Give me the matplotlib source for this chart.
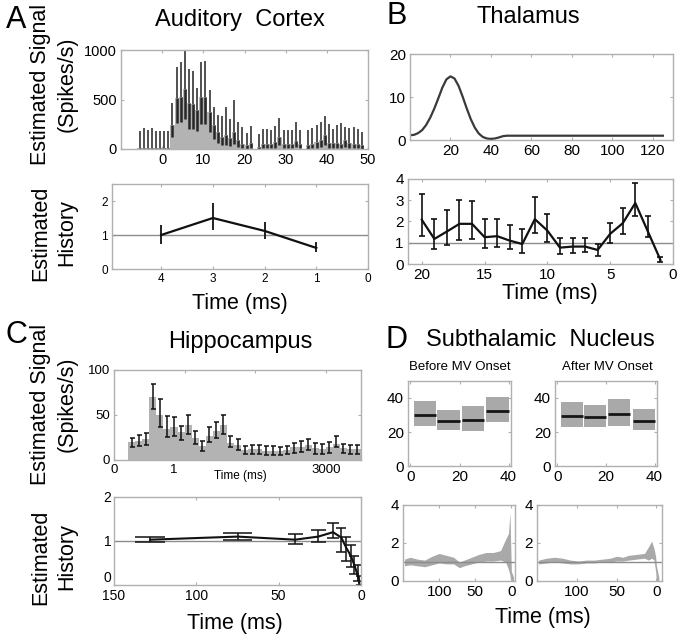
import matplotlib
matplotlib.use('Agg')
import matplotlib.pyplot as plt
import numpy as np

plt.rcParams['font.family'] = ['Liberation Sans', 'DejaVu Sans']

# ---------------- data ----------------
# A: Auditory cortex signal (1-ms bins)
a_t = [-5.5, -4.5, -3.5, -2.5, -1.5, -0.5, 0.5, 1.5,
       2.5, 3.5, 4.5, 5.5, 6.5, 7.5, 8.5, 9.5, 10.5, 11.5, 12.5, 13.5,
       14.5, 15.5, 16.5, 17.5, 18.5, 19.5, 20.5, 21.5,
       23.5, 24.5, 25.5, 26.5, 27.5, 28.5, 29.5, 30.5, 31.5, 32.5, 33.5,
       35.5, 36.5, 37.5, 38.5, 39.5, 40.5, 41.5, 42.5, 43.5, 44.5, 45.5,
       46.5, 47.5, 48.5]
a_rate = [10, 10, 10, 10, 10, 10, 10, 10,
          240, 520, 525, 610, 460, 455, 395, 525, 530, 375, 240, 175,
          125, 140, 110, 175, 90, 55, 40, 60,
          25, 55, 55, 50, 70, 125, 50, 50, 50, 80, 50,
          45, 55, 70, 90, 140, 60, 60, 60, 50, 90, 60,
          55, 50, 40]
a_hi = [182, 209, 192, 209, 182, 182, 182, 182,
        468, 832, 875, 1000, 808, 791, 613, 882, 892, 596, 428, 343,
        330, 420, 300, 490, 270, 226, 165, 232,
        150, 199, 199, 192, 232, 310, 192, 192, 192, 273, 192,
        195, 209, 242, 269, 333, 249, 200, 240, 260, 220, 210,
        225, 200, 170]
a_lo = [0, 0, 0, 0, 0, 0, 0, 0,
        120, 260, 270, 300, 200, 200, 180, 250, 250, 170, 100, 60,
        40, 40, 30, 50, 20, 10, 5, 10,
        0, 10, 10, 10, 15, 40, 10, 10, 10, 20, 10,
        5, 10, 15, 25, 40, 15, 15, 15, 10, 25, 15,
        10, 10, 5]

# A: history
ah_lag = [4, 3, 2, 1]
ah_val = [1.0, 1.5, 1.12, 0.62]
ah_lo = [0.75, 1.15, 0.88, 0.50]
ah_hi = [1.30, 1.95, 1.38, 0.80]

# B: Thalamus signal
b_t = [0, 2, 4, 6, 8, 10, 12, 14, 16, 18, 20, 22, 24, 26, 28, 30, 32, 34,
       36, 38, 40, 42, 44, 46, 48, 125]
b_val = [1.1, 1.2, 1.6, 2.3, 3.5, 5.2, 7.3, 9.7, 12.2, 14.1, 14.8, 14.3, 12.6,
         10.1, 7.4, 4.9, 2.9, 1.5, 0.7, 0.35, 0.25, 0.35, 0.6, 0.9, 1.0, 1.0]

# B: history
bh_lag = list(range(20, 0, -1))
bh_val = [2.08, 1.18, 1.53, 1.89, 1.89, 1.26, 1.31, 1.10, 0.94, 2.11,
          1.57, 0.77, 0.82, 0.82, 0.66, 1.42, 1.92, 2.87, 1.53, 0.19]
bh_lo = [1.32, 0.69, 0.90, 1.13, 1.18, 0.74, 0.79, 0.69, 0.54, 1.45,
         1.05, 0.47, 0.50, 0.55, 0.39, 0.98, 1.42, 2.24, 1.26, 0.08]
bh_hi = [3.30, 2.13, 2.52, 3.02, 2.98, 2.13, 2.13, 1.84, 1.64, 3.15,
         2.36, 1.21, 1.21, 1.21, 0.94, 1.95, 2.63, 3.81, 2.24, 0.31]

# C: Hippocampus signal (100-ms bins)
c_t = [250, 350, 450, 550, 650, 750, 850, 950, 1050, 1150, 1250, 1350, 1450,
       1550, 1650, 1750, 1850, 1950, 2050, 2150, 2250, 2350, 2450, 2550,
       2650, 2750, 2850, 2950, 3050, 3150, 3250, 3350, 3450]
c_val = [20, 21, 23, 70, 50, 35, 37, 31, 39, 24, 16, 27, 32, 39, 19, 17, 11,
         12, 12, 10, 10, 10, 11, 14, 15, 17, 13, 12, 14, 18, 13, 12, 12]
c_lo = [14, 16, 17, 57, 37, 26, 27, 22, 29, 18, 10, 20, 25, 29, 14, 11, 7,
        7, 7, 6, 6, 6, 7, 8, 9, 11, 7, 7, 8, 14, 8, 7, 7]
c_hi = [25, 28, 30, 85, 68, 49, 48, 38, 50, 32, 21, 37, 42, 50, 27, 23, 16,
        17, 17, 16, 16, 15, 16, 19, 21, 23, 19, 18, 20, 27, 18, 17, 17]

# C: history
ch_lag = [128, 75, 40, 26, 17, 12, 9, 6, 4, 2, 1]
ch_val = [1.03, 1.10, 1.03, 1.10, 1.20, 1.08, 0.85, 0.65, 0.45, 0.22, 0.05]
ch_lo = [0.97, 1.03, 0.93, 0.97, 1.07, 0.75, 0.55, 0.40, 0.25, 0.08, 0.0]
ch_hi = [1.09, 1.18, 1.15, 1.26, 1.40, 1.30, 1.10, 0.90, 0.65, 0.45, 0.20]
ch_cap = [9, 9, 4.5, 4.5, 3.5, 3, 3, 3, 3, 3, 2]

# D: Subthalamic nucleus signal (before / after MV onset)
d_left = [1.5, 11, 21, 31]
d_right = [10.5, 20, 30, 40]
d_before_med = [30, 26.5, 27, 32.5]
d_before_lo = [23.8, 21.3, 20.3, 25.8]
d_before_hi = [38, 33, 35.5, 40.8]
d_after_med = [29.7, 28.7, 30.6, 26.7]
d_after_lo = [23.2, 22.8, 23.4, 21.3]
d_after_hi = [37.5, 35.9, 39.4, 33.6]

# D: history bands
db_lag = [148, 140, 130, 120, 110, 100, 90, 80, 72, 65, 55, 45, 35, 25, 15,
          8, 4, 2, 1, 0, -3]
db_lo = [0.80, 0.85, 0.80, 0.75, 0.85, 0.95, 0.90, 0.90, 0.70, 0.80, 0.90,
         1.00, 1.05, 1.05, 1.10, 1.00, 0.60, 0.30, 0.00, 0.00, 0.00]
db_hi = [1.15, 1.25, 1.15, 1.10, 1.30, 1.45, 1.35, 1.25, 1.00, 1.10, 1.25,
         1.40, 1.50, 1.50, 1.60, 2.20, 2.50, 3.60, 2.00, 0.50, 0.20]
da_lag = [148, 138, 128, 118, 108, 98, 88, 78, 68, 58, 50, 42, 35, 25, 15,
          10, 6, 3, 1, 0, -3]
da_lo = [0.90, 0.95, 1.00, 0.95, 0.90, 0.90, 0.95, 0.95, 1.00, 1.00, 1.05,
         1.05, 1.10, 1.15, 1.20, 1.10, 1.20, 1.10, 0.50, 0.00, 0.00]
da_hi = [1.10, 1.20, 1.25, 1.20, 1.10, 1.05, 1.10, 1.10, 1.15, 1.20, 1.30,
         1.25, 1.35, 1.40, 1.45, 1.80, 2.10, 1.70, 1.30, 0.80, 0.20]

# ---------------- figure ----------------
W, H = 680, 639
fig = plt.figure(figsize=(6.8, 6.39), dpi=100)

def px_axes(l, t, r, b):
    return fig.add_axes([l / W, 1 - b / H, (r - l) / W, (b - t) / H])

SPINE = '#b0b0b0'
BAR = '#b3b3b3'
HLINE = '#8c8c8c'

def style(ax, fs=9.5):
    for s in ax.spines.values():
        s.set_color(SPINE)
        s.set_linewidth(1.0)
    ax.tick_params(direction='in', length=2.5, width=0.8, color=SPINE,
                   labelsize=fs, top=True, right=True, pad=3)

def ftext(x, y, s, **kw):
    fig.text(x / W, 1 - y / H, s, ha='center', va='center', **kw)

# ----- A top
ax = px_axes(121, 50, 368, 149)
ax.bar(a_t, a_rate, width=1.0, color=BAR, linewidth=0)
ax.vlines(a_t, a_rate, a_hi, color='#333333', lw=1.2)
ax.vlines(a_t, a_lo, a_rate, color='#262626', lw=1.8)
ax.set_xlim(-10, 50)
ax.set_ylim(0, 1000)
ax.set_xticks([0, 10, 20, 30, 40, 50])
ax.set_yticks([0, 500, 1000])
style(ax, 10.5)

# ----- A bottom
ax = px_axes(112, 184, 368, 269)
ax.axhline(1, color=HLINE, lw=1.0)
v = np.array(ah_val)
ax.errorbar(ah_lag, v, yerr=[v - np.array(ah_lo), np.array(ah_hi) - v],
            color='#111111', lw=1.6, elinewidth=1.3, capsize=0)
ax.set_xlim(4.95, 0)
ax.set_ylim(0, 2.5)
ax.set_xticks([4, 3, 2, 1, 0])
ax.set_yticks([0, 1, 2])
style(ax, 8.5)

# ----- B top
ax = px_axes(410, 54, 673, 140)
ax.plot(b_t, b_val, color='#3a3a3a', lw=1.6)
ax.set_xlim(0, 130)
ax.set_ylim(0, 20)
ax.set_xticks([20, 40, 60, 80, 100, 120])
ax.set_yticks([0, 10, 20])
style(ax, 11)

# ----- B bottom
ax = px_axes(408, 179, 673, 264)
ax.axhline(1, color=HLINE, lw=1.0)
v = np.array(bh_val)
ax.errorbar(bh_lag, v, yerr=[v - np.array(bh_lo), np.array(bh_hi) - v],
            color='#111111', lw=1.6, elinewidth=1.2, capsize=2, capthick=1.2)
ax.set_xlim(21.1, 0)
ax.set_ylim(0, 4)
ax.set_xticks([20, 15, 10, 5, 0])
ax.set_yticks([0, 1, 2, 3, 4])
style(ax, 11)

# ----- C top
ax = px_axes(114, 370, 361, 460)
ax.bar(c_t, c_val, width=100, color=BAR, linewidth=0)
v = np.array(c_val)
ax.errorbar(c_t, v, yerr=[v - np.array(c_lo), np.array(c_hi) - v],
            fmt='none', ecolor='#111111', elinewidth=1.1, capsize=1.8,
            capthick=1.1)
ax.set_xlim(0, 3500)
ax.set_ylim(0, 100)
ax.set_xticks([0, 1000, 2000, 3000])
ax.set_xticklabels(['0', '1      ', '', '3000'])
ax.set_yticks([0, 50, 100])
style(ax, 9.5)

# ----- C bottom
ax = px_axes(114, 497, 361, 585)
ax.axhline(1, color=HLINE, lw=1.0)
ax.plot(ch_lag, ch_val, color='#111111', lw=1.5)
ax.vlines(ch_lag, ch_lo, ch_hi, color='#111111', lw=1.1)
cl = np.array(ch_lag)
cw = np.array(ch_cap)
ax.hlines(ch_lo, cl - cw, cl + cw, color='#111111', lw=1.1)
ax.hlines(ch_hi, cl - cw, cl + cw, color='#111111', lw=1.1)
ax.set_xlim(150, 0)
ax.set_ylim(0, 2)
ax.set_xticks([150, 100, 50, 0])
ax.set_yticks([0, 1, 2])
style(ax, 10)
ax.tick_params(axis='y', pad=2)
for lbl in ax.get_yticklabels():
    if lbl.get_text() == '0':
        lbl.set_va('bottom')

# ----- D top panels
for (l, r), med, lo, hi in [((408, 511), d_before_med, d_before_lo, d_before_hi),
                            ((555, 657), d_after_med, d_after_lo, d_after_hi)]:
    ax = px_axes(l, 381, r, 466)
    left = np.array(d_left)
    right = np.array(d_right)
    lo = np.array(lo)
    hi = np.array(hi)
    ax.bar(left, hi - lo, bottom=lo, width=right - left, align='edge',
           color='#a9a9a9', linewidth=0)
    ax.hlines(med, left, right, color='#151515', lw=2.0)
    ax.set_xlim(-1, 41)
    ax.set_ylim(0, 50)
    ax.set_xticks([0, 20, 40])
    ax.set_yticks([0, 20, 40])
    style(ax, 11)

# ----- D bottom panels
for (l, r, xr), lag, lo, hi in [((403, 515, -5), db_lag, db_lo, db_hi),
                                ((537, 662, -7), da_lag, da_lo, da_hi)]:
    ax = px_axes(l, 505, r, 581)
    ax.fill_between(lag, lo, hi, color='#a9a9a9', linewidth=0)
    ax.axhline(1, color=HLINE, lw=1.0)
    ax.set_xlim(150, xr)
    ax.set_ylim(0, 4)
    ax.set_xticks([100, 50, 0])
    ax.set_yticks([0, 2, 4])
    style(ax, 11)

# ---------------- text ----------------
LET = 22
TIT = 17
LAB = 15.5
ftext(16, 20, 'A', fontsize=LET)
ftext(240, 20, 'Auditory  Cortex', fontsize=TIT)
ftext(397, 16, 'B', fontsize=LET)
ftext(528, 17, 'Thalamus', fontsize=TIT)
ftext(16, 335, 'C', fontsize=LET)
ftext(240, 342, 'Hippocampus', fontsize=TIT)
ftext(397, 340, 'D', fontsize=LET)
ftext(540, 340, 'Subthalamic  Nucleus', fontsize=TIT)

for yc in (84, 404):
    ftext(41, yc, 'Estimated Signal', fontsize=LAB, rotation=90)
    ftext(67, yc, '(Spikes/s)', fontsize=LAB, rotation=90)
for yc in (233, 557):
    ftext(41, yc, 'Estimated', fontsize=LAB, rotation=90)
    ftext(67, yc, 'History', fontsize=LAB, rotation=90)

ftext(240, 303, 'Time (ms)', fontsize=LAB)
ftext(550, 294, 'Time (ms)', fontsize=LAB)
ftext(240, 476, 'Time (ms)', fontsize=8.5)
ftext(235, 623, 'Time (ms)', fontsize=LAB)
ftext(543, 617, 'Time (ms)', fontsize=LAB)
ftext(460, 367, 'Before MV Onset', fontsize=9.5)
ftext(607, 367, 'After MV Onset', fontsize=9.5)

fig.savefig('out.png', dpi=100)
